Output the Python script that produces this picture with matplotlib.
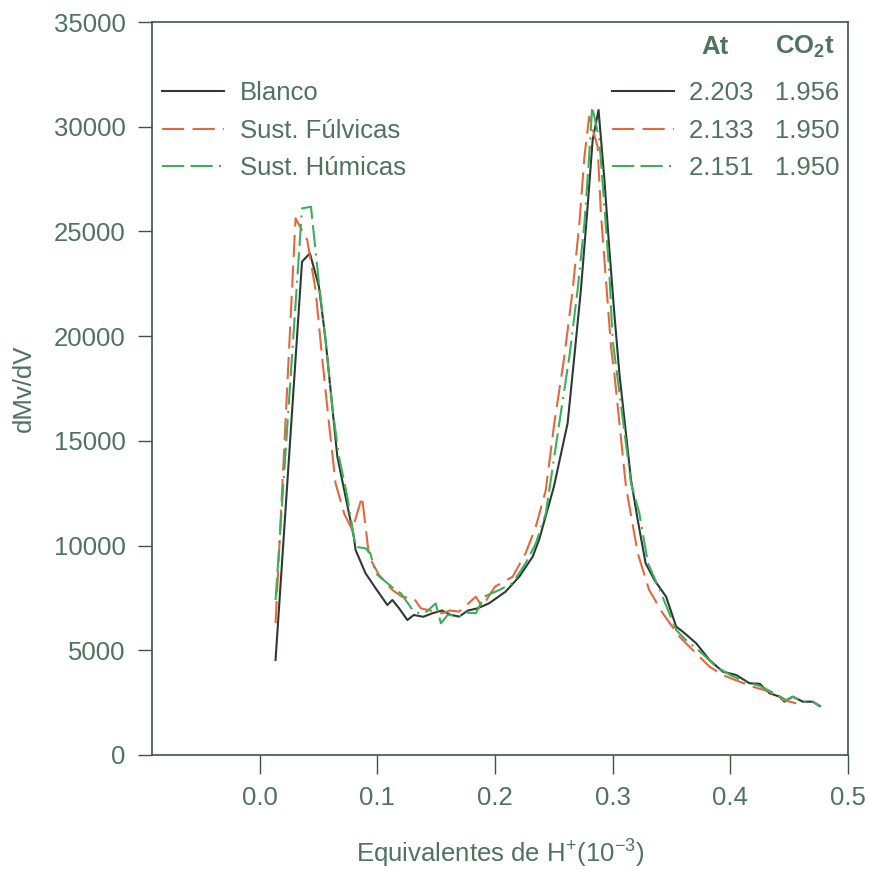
import matplotlib
matplotlib.use("Agg")
import matplotlib.pyplot as plt

plt.rcParams['font.family'] = ['Liberation Sans', 'DejaVu Sans']
plt.rcParams['mathtext.fontset'] = 'custom'
plt.rcParams['mathtext.rm'] = 'Liberation Sans'
plt.rcParams['mathtext.bf'] = 'Liberation Sans:bold'
plt.rcParams['lines.scale_dashes'] = False

# ---- data ----
blanco_x = [0.0135, 0.036, 0.0427, 0.0504, 0.056, 0.0617, 0.066, 0.073, 0.080, 0.0815, 0.090, 0.0986,
            0.1085, 0.1128, 0.1185, 0.1255, 0.131, 0.139, 0.1468, 0.155, 0.162, 0.1695, 0.177, 0.185,
            0.195, 0.209, 0.2206, 0.232, 0.2376, 0.250, 0.2617, 0.2674, 0.273, 0.2787, 0.283, 0.288,
            0.293, 0.297, 0.3014, 0.3057, 0.3156, 0.3213, 0.328, 0.3355, 0.3454, 0.354, 0.3596, 0.371,
            0.3823, 0.3936, 0.405, 0.4163, 0.425, 0.4334, 0.442, 0.446, 0.453, 0.4617, 0.470, 0.476]
blanco_y = [4536, 23555, 23955, 22362, 19816, 16631, 14244, 12334, 10424, 9789, 8675, 7959,
            7163, 7401, 7004, 6446, 6685, 6600, 6766, 6900, 6700, 6606, 6900, 7000,
            7243, 7800, 8514, 9469, 10300, 12800, 15839, 19020, 22204, 26181, 29366, 30799,
            27456, 24272, 21091, 18226, 13131, 11221, 9154, 8356, 7559, 6126, 5888, 5334,
            4536, 3978, 3820, 3424, 3400, 2946, 2784, 2545, 2784, 2545, 2545, 2340]

fulv_x = [0.0135, 0.0305, 0.0404, 0.0475, 0.053, 0.0589, 0.0645, 0.0720, 0.0787, 0.087, 0.093, 0.1014,
          0.1128, 0.121, 0.131, 0.137, 0.145, 0.155, 0.162, 0.1695, 0.1837, 0.189, 0.200, 0.215,
          0.226, 0.2347, 0.2432, 0.2504, 0.2589, 0.266, 0.2717, 0.276, 0.280, 0.2872, 0.290,
          0.2943, 0.2986, 0.3014, 0.3113, 0.3213, 0.331, 0.3426, 0.3568, 0.368, 0.3823, 0.3936,
          0.4078, 0.419, 0.4334, 0.4447, 0.456]
fulv_y = [6289, 25628, 24591, 22204, 19020, 15839, 12974, 11500, 10744, 12334, 9469, 8595,
          7879, 7559, 7482, 7004, 6900, 6766, 6900, 6845, 7559, 7080, 8037, 8514,
          9632, 10902, 12654, 15839, 19020, 22204, 25389, 28569, 30480, 29047, 25866,
          22681, 19496, 18226, 12811, 9632, 7879, 6766, 5649, 5014, 4216, 3820,
          3500, 3261, 3023, 2626, 2469]

hum_x = [0.0135, 0.036, 0.0436, 0.0504, 0.056, 0.0617, 0.0674, 0.0745, 0.080, 0.0815, 0.090, 0.094,
         0.0986, 0.107, 0.1156, 0.120, 0.124, 0.130, 0.1355, 0.142, 0.1496, 0.154, 0.160, 0.1695,
         0.176, 0.1837, 0.1908, 0.2036, 0.2149, 0.226, 0.2347, 0.2432, 0.2546, 0.2632, 0.2702,
         0.276, 0.280, 0.2826, 0.2887, 0.293, 0.2972, 0.300, 0.3156, 0.3227, 0.330, 0.340, 0.354,
         0.362, 0.375, 0.388, 0.400, 0.412, 0.425, 0.437, 0.4475, 0.453, 0.4617, 0.470, 0.476]
hum_y = [7400, 26100, 26180, 22524, 19816, 16631, 14244, 12334, 10424, 9947, 9867, 9632,
         8675, 8276, 7879, 7720, 7401, 6924, 6766, 6850, 7243, 6288, 6700, 6606,
         6800, 6766, 7559, 7879, 8198, 9154, 10109, 11540, 15839, 19020, 22204,
         25389, 28569, 30957, 29366, 26181, 23001, 19816, 12974, 11540, 9154, 7879, 5969,
         5500, 4900, 4216, 3820, 3500, 3300, 2950, 2626, 2784, 2545, 2545, 2340]

series_labels = ['Blanco', 'Sust. Fúlvicas', 'Sust. Húmicas']
at_values = ['2.203', '2.133', '2.151']
co2_values = ['1.956', '1.950', '1.950']

x_ticks = [0.0, 0.1, 0.2, 0.3, 0.4, 0.5]
y_ticks = [0, 5000, 10000, 15000, 20000, 25000, 30000, 35000]

# ---- style ----
text_c = '#4e735e'
spine_c = '#3d5548'
c_blanco = '#2b3b33'
c_fulv = '#e2693f'
c_hum = '#3fae5a'
fs = 18.5

fig = plt.figure(figsize=(8.69, 8.69), dpi=100)
ax = fig.add_axes([152/869, 1-755/869, 696/869, 733/869])

l1, = ax.plot(blanco_x, blanco_y, color=c_blanco, lw=1.5)
l2, = ax.plot(fulv_x, fulv_y, color=c_fulv, lw=1.5, dashes=[16, 6])
l3, = ax.plot(hum_x, hum_y, color=c_hum, lw=1.5, dashes=[16, 4.5, 16, 4.5, 1.5, 4.5])

ax.set_xlim(-0.0915, 0.5)
ax.set_ylim(0, 35000)
ax.set_xticks(x_ticks)
ax.set_xticklabels([f"{v:.1f}" for v in x_ticks])
ax.set_yticks(y_ticks)
ax.set_yticklabels([str(v) for v in y_ticks])

for s in ax.spines.values():
    s.set_color(spine_c)
    s.set_linewidth(1.2)
ax.tick_params(axis='y', direction='out', length=10, width=1, colors=spine_c,
               labelcolor=text_c, labelsize=fs, pad=9)
ax.tick_params(axis='x', direction='out', length=14, width=1, colors=spine_c,
               labelcolor=text_c, labelsize=fs, pad=8)

ax.set_xlabel(r'Equivalentes de H$^{+}$(10$^{-3}$)', fontsize=fs, color=text_c, labelpad=19)
ax.set_ylabel('dMv/dV', fontsize=fs, color=text_c, labelpad=13)

leg1 = ax.legend([l1, l2, l3], series_labels, loc='upper left', bbox_to_anchor=(0.015, 0.9195),
                 frameon=False, fontsize=fs, handlelength=2.4, handletextpad=0.6,
                 labelspacing=0.53, borderaxespad=0, borderpad=0)
for t in leg1.get_texts():
    t.set_color(text_c)
ax.add_artist(leg1)

right_labels = [f"{a}   {c}" for a, c in zip(at_values, co2_values)]
leg2 = ax.legend([l1, l2, l3], right_labels, loc='upper right', bbox_to_anchor=(0.988, 0.9195),
                 frameon=False, fontsize=fs, handlelength=2.4, handletextpad=0.6,
                 labelspacing=0.53, borderaxespad=0, borderpad=0)
for t in leg2.get_texts():
    t.set_color(text_c)

fig.text(715/869, 1-47/869, 'At', fontsize=fs, fontweight='bold', color=text_c,
         ha='center', va='center')
fig.text(805/869, 1-47/869, r'$\mathbf{CO_2t}$', fontsize=fs, color=text_c,
         ha='center', va='center')

fig.savefig('out.png', dpi=100, facecolor='white')
